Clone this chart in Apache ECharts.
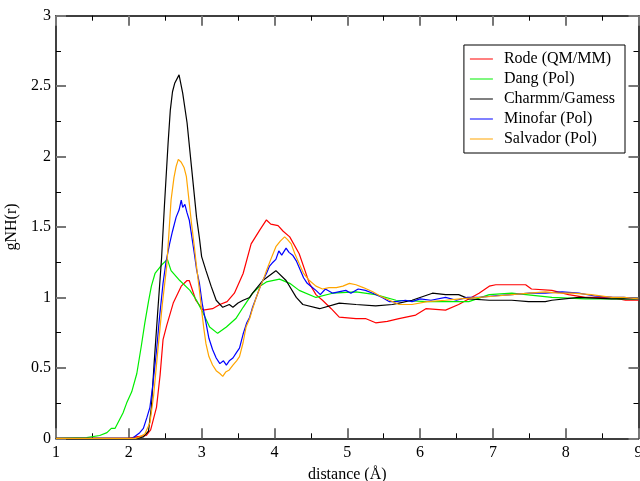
<!DOCTYPE html>
<html>
<head>
<meta charset="utf-8">
<script src="https://cdn.jsdelivr.net/npm/echarts@6/dist/echarts.min.js"></script>
<style>html,body{margin:0;padding:0;background:#fff}#c{width:640px;height:481px}</style>
</head>
<body>
<div id="c"></div>
<script>
const seriesNames = ['Rode (QM/MM)', 'Dang (Pol)', 'Charmm/Gamess', 'Minofar (Pol)', 'Salvador (Pol)'];
const xTicks = [1, 2, 3, 4, 5, 6, 7, 8, 9];
const yTicks = [0, 0.5, 1, 1.5, 2, 2.5, 3];

const rode = [[1.0,0],[2.0,0],[2.1,0.01],[2.24,0.02],[2.3,0.06],[2.38,0.22],[2.43,0.45],[2.47,0.70],[2.52,0.80],[2.61,0.96],[2.72,1.08],[2.8,1.12],[2.83,1.12],[2.92,0.98],[3.02,0.91],[3.15,0.92],[3.25,0.95],[3.35,0.97],[3.45,1.03],[3.57,1.17],[3.68,1.38],[3.8,1.48],[3.89,1.55],[3.95,1.52],[4.05,1.51],[4.12,1.47],[4.21,1.43],[4.34,1.31],[4.48,1.10],[4.57,1.02],[4.66,0.98],[4.78,0.92],[4.89,0.86],[5.12,0.85],[5.25,0.85],[5.39,0.82],[5.55,0.83],[5.71,0.85],[5.94,0.875],[6.08,0.92],[6.35,0.91],[6.53,0.95],[6.81,1.03],[6.95,1.08],[7.04,1.09],[7.45,1.09],[7.53,1.06],[7.81,1.05],[8.04,1.02],[8.27,1.00],[8.63,1.00],[8.82,0.98],[9.0,0.98]];

const dang = [[1.0,0],[1.42,0.005],[1.6,0.02],[1.7,0.04],[1.76,0.07],[1.81,0.07],[1.92,0.18],[1.97,0.25],[2.04,0.33],[2.11,0.46],[2.17,0.65],[2.22,0.82],[2.27,0.97],[2.31,1.08],[2.36,1.17],[2.45,1.23],[2.53,1.27],[2.58,1.19],[2.7,1.12],[2.84,1.05],[2.93,0.98],[3.02,0.89],[3.11,0.79],[3.22,0.745],[3.34,0.79],[3.47,0.85],[3.57,0.93],[3.70,1.03],[3.80,1.08],[3.89,1.11],[4.07,1.13],[4.21,1.10],[4.34,1.05],[4.57,1.00],[4.8,1.03],[5.12,1.04],[5.39,1.02],[5.67,0.98],[6.12,0.97],[6.67,0.97],[6.95,1.02],[7.26,1.03],[7.81,1.00],[8.27,0.99],[8.63,0.99],[9.0,0.99]];

const charmm = [[1.0,0],[2.1,0],[2.2,0.01],[2.27,0.05],[2.31,0.22],[2.35,0.55],[2.40,0.92],[2.45,1.28],[2.49,1.66],[2.54,2.10],[2.57,2.33],[2.60,2.46],[2.63,2.52],[2.69,2.58],[2.74,2.45],[2.80,2.24],[2.86,1.93],[2.93,1.57],[2.97,1.42],[3.00,1.29],[3.06,1.19],[3.13,1.08],[3.20,0.98],[3.29,0.93],[3.38,0.95],[3.43,0.93],[3.50,0.96],[3.57,0.98],[3.66,1.00],[3.70,1.03],[3.84,1.12],[4.02,1.19],[4.16,1.12],[4.30,1.00],[4.39,0.95],[4.62,0.92],[4.89,0.96],[5.12,0.95],[5.39,0.94],[5.62,0.95],[5.71,0.96],[5.89,0.98],[6.17,1.03],[6.35,1.02],[6.53,1.02],[6.67,0.99],[6.95,0.98],[7.26,0.98],[7.49,0.97],[7.72,0.97],[7.81,0.98],[8.18,1.00],[8.63,0.99],[9.0,0.99]];

const minofar = [[1.0,0],[2.05,0],[2.10,0.02],[2.15,0.04],[2.20,0.07],[2.25,0.15],[2.29,0.22],[2.33,0.38],[2.38,0.62],[2.42,0.85],[2.47,1.10],[2.51,1.25],[2.56,1.38],[2.60,1.47],[2.65,1.57],[2.69,1.62],[2.72,1.69],[2.74,1.64],[2.77,1.66],[2.80,1.60],[2.83,1.55],[2.86,1.45],[2.90,1.31],[2.93,1.20],[2.97,1.10],[3.01,0.95],[3.06,0.82],[3.10,0.71],[3.15,0.63],[3.20,0.57],[3.25,0.53],[3.30,0.55],[3.34,0.52],[3.38,0.55],[3.43,0.57],[3.48,0.61],[3.52,0.64],[3.57,0.74],[3.62,0.82],[3.66,0.86],[3.70,0.93],[3.75,1.00],[3.80,1.07],[3.84,1.12],[3.89,1.17],[3.93,1.22],[3.98,1.25],[4.02,1.27],[4.06,1.33],[4.10,1.30],[4.16,1.35],[4.20,1.32],[4.25,1.30],[4.30,1.26],[4.35,1.20],[4.40,1.14],[4.45,1.10],[4.50,1.08],[4.57,1.05],[4.63,1.02],[4.70,1.06],[4.80,1.03],[4.88,1.04],[4.98,1.05],[5.05,1.03],[5.15,1.06],[5.25,1.05],[5.35,1.03],[5.48,1.00],[5.58,0.97],[5.67,0.97],[5.80,0.98],[5.89,0.97],[6.0,0.99],[6.15,0.98],[6.35,1.00],[6.5,0.98],[6.65,1.00],[6.81,1.00],[7.0,1.01],[7.26,1.02],[7.5,1.03],[7.72,1.03],[7.95,1.04],[8.18,1.03],[8.4,1.01],[8.63,1.00],[8.8,1.00],[9.0,0.99]];

const salvador = [[1.0,0],[2.1,0],[2.15,0.01],[2.22,0.03],[2.29,0.11],[2.34,0.30],[2.40,0.63],[2.46,0.95],[2.52,1.22],[2.55,1.45],[2.58,1.69],[2.62,1.85],[2.65,1.93],[2.68,1.98],[2.72,1.96],[2.76,1.92],[2.79,1.86],[2.82,1.72],[2.86,1.53],[2.90,1.36],[2.93,1.22],[2.97,1.05],[3.00,0.91],[3.03,0.78],[3.06,0.67],[3.10,0.58],[3.15,0.52],[3.20,0.48],[3.25,0.46],[3.29,0.44],[3.33,0.47],[3.38,0.485],[3.43,0.52],[3.48,0.55],[3.52,0.58],[3.57,0.68],[3.61,0.79],[3.66,0.85],[3.70,0.92],[3.75,1.00],[3.80,1.07],[3.85,1.13],[3.89,1.19],[3.95,1.27],[4.02,1.36],[4.08,1.40],[4.14,1.43],[4.18,1.41],[4.23,1.38],[4.28,1.31],[4.34,1.24],[4.40,1.17],[4.48,1.12],[4.57,1.08],[4.66,1.06],[4.75,1.07],[4.85,1.07],[4.94,1.08],[5.03,1.10],[5.12,1.09],[5.22,1.07],[5.35,1.04],[5.45,1.01],[5.58,0.98],[5.71,0.95],[5.89,0.95],[6.1,0.97],[6.35,0.98],[6.55,0.99],[6.81,1.00],[7.05,1.01],[7.26,1.02],[7.5,1.03],[7.72,1.04],[7.9,1.03],[8.09,1.03],[8.35,1.02],[8.63,1.00],[8.8,1.00],[9.0,0.99]];

const colors = ['#ff0000', '#00ee00', '#000000', '#0000ff', '#ffa500'];
const allData = [rode, dang, charmm, minofar, salvador];
const FONT = '"Liberation Serif", "DejaVu Serif", serif';

const chart = echarts.init(document.getElementById('c'), null, {renderer: 'canvas'});

function axisCommon(show) {
  return {
    axisLine: {show: true, onZero: false, lineStyle: {color: '#000', width: 1.5}},
    axisTick: {show: true, inside: true, length: 10, lineStyle: {color: '#777', width: 2}},
    minorTick: {show: true, splitNumber: 2, length: 5, lineStyle: {color: '#000', width: 1}},
    splitLine: {show: false},
    axisLabel: {show: show, color: '#000', fontFamily: FONT, fontSize: 16}
  };
}

const option = {
  animation: false,
  backgroundColor: '#fff',
  grid: {left: 56, right: 1.5, top: 15.7, bottom: 42.7, containLabel: false, outerBoundsMode: 'none'},
  legend: {
    data: seriesNames,
    orient: 'vertical',
    right: 15,
    top: 45,
    backgroundColor: '#fff',
    borderColor: '#000',
    borderWidth: 1,
    padding: [6, 10, 6, 6],
    itemGap: 4,
    itemWidth: 23,
    itemHeight: 15,
    icon: 'path://M0,7 L23,7 L23,8 L0,8 Z',
    textStyle: {color: '#000', fontFamily: FONT, fontSize: 16, padding: [0, 0, 0, 6]}
  },
  xAxis: [
    Object.assign({
      type: 'value', min: 1, max: 9, interval: 1, position: 'bottom',
      name: 'distance (Å)', nameLocation: 'middle', nameGap: 28,
      nameTextStyle: {color: '#000', fontFamily: FONT, fontSize: 16}
    }, axisCommon(true), {axisLabel: {show: true, color: '#000', fontFamily: FONT, fontSize: 16, margin: 6}}),
    Object.assign({type: 'value', min: 1, max: 9, interval: 1, position: 'top'}, axisCommon(false))
  ],
  yAxis: [
    Object.assign({
      type: 'value', min: 0, max: 3, interval: 0.5, position: 'left',
      name: 'gNH(r)', nameLocation: 'middle', nameGap: 33,
      nameTextStyle: {color: '#000', fontFamily: FONT, fontSize: 16}
    }, axisCommon(true), {axisLabel: {show: true, color: '#000', fontFamily: FONT, fontSize: 16, margin: 5, formatter: v => String(v)}}),
    Object.assign({type: 'value', min: 0, max: 3, interval: 0.5, position: 'right'}, axisCommon(false))
  ],
  series: seriesNames.map((n, i) => ({
    name: n,
    type: 'line',
    data: allData[i],
    xAxisIndex: 0,
    yAxisIndex: 0,
    symbol: 'none',
    showSymbol: false,
    smooth: false,
    clip: true,
    color: colors[i],
    lineStyle: {color: colors[i], width: 1.2}
  }))
};
chart.setOption(option);
</script>
</body>
</html>
